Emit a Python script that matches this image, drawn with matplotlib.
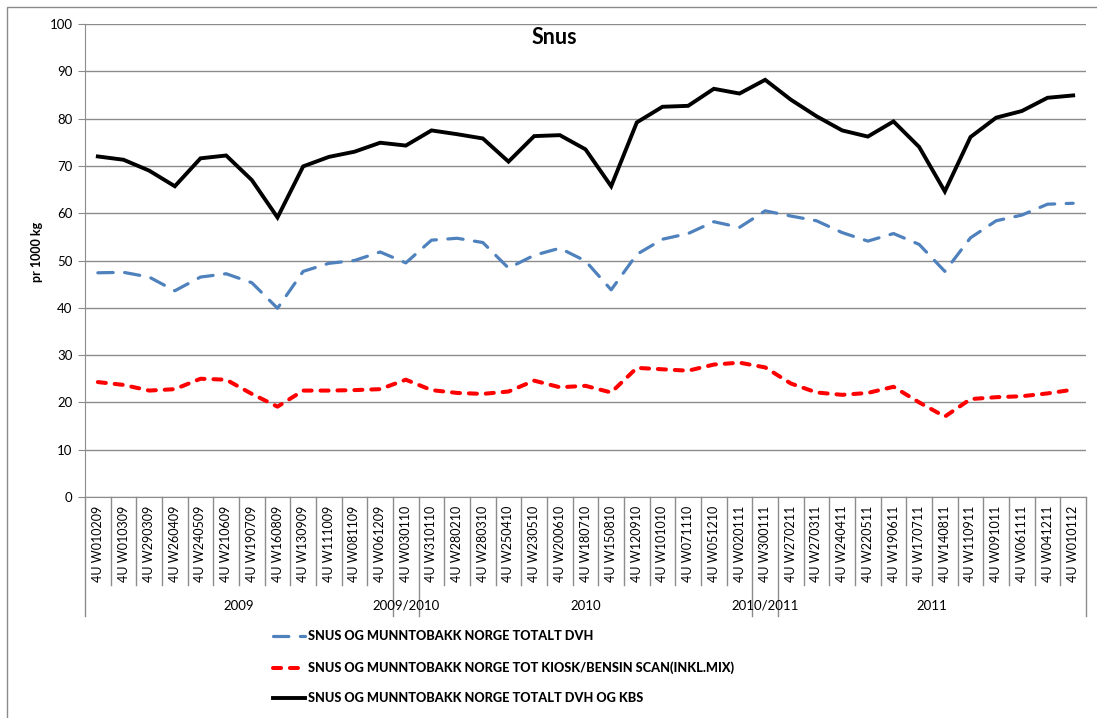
import matplotlib
matplotlib.use("Agg")
import matplotlib.pyplot as plt
from matplotlib.lines import Line2D
from matplotlib.patches import Rectangle
import numpy as np

categories = ["4U W010209", "4U W010309", "4U W290309", "4U W260409", "4U W240509",
              "4U W210609", "4U W190709", "4U W160809", "4U W130909", "4U W111009",
              "4U W081109", "4U W061209", "4U W030110", "4U W310110", "4U W280210",
              "4U W280310", "4U W250410", "4U W230510", "4U W200610", "4U W180710",
              "4U W150810", "4U W120910", "4U W101010", "4U W071110", "4U W051210",
              "4U W020111", "4U W300111", "4U W270211", "4U W270311", "4U W240411",
              "4U W220511", "4U W190611", "4U W170711", "4U W140811", "4U W110911",
              "4U W091011", "4U W061111", "4U W041211", "4U W010112"]

groups = ["2009", "2009/2010", "2010", "2010/2011", "2011"]
group_sizes = [12, 1, 13, 1, 12]

dvh = [47.4, 47.5, 46.5, 43.6, 46.5, 47.2, 45.3, 39.9, 47.7, 49.4,
       50.0, 51.8, 49.5, 54.3, 54.7, 53.8, 48.4, 51.1, 52.6, 49.9,
       43.8, 51.3, 54.5, 55.7, 58.2, 57.0, 60.5, 59.4, 58.4, 55.9,
       54.1, 55.7, 53.4, 47.7, 54.8, 58.4, 59.6, 61.9, 62.1]

kiosk = [24.3, 23.7, 22.5, 22.8, 25.0, 24.8, 21.8, 19.1, 22.5, 22.5,
         22.6, 22.8, 24.8, 22.6, 22.0, 21.8, 22.3, 24.6, 23.2, 23.5,
         22.1, 27.3, 27.0, 26.7, 28.0, 28.4, 27.4, 24.0, 22.1, 21.6,
         22.0, 23.3, 20.0, 17.0, 20.7, 21.1, 21.3, 21.9, 22.7]

total = [72.0, 71.3, 69.0, 65.7, 71.6, 72.2, 67.0, 59.1, 69.9, 71.9,
         73.0, 74.9, 74.3, 77.5, 76.7, 75.8, 70.9, 76.3, 76.5, 73.5,
         65.7, 79.2, 82.5, 82.7, 86.3, 85.3, 88.2, 84.0, 80.5, 77.5,
         76.2, 79.4, 74.0, 64.6, 76.1, 80.2, 81.6, 84.4, 84.9]

series_labels = ["SNUS OG MUNNTOBAKK NORGE TOTALT DVH",
                 "SNUS OG MUNNTOBAKK NORGE TOT KIOSK/BENSIN SCAN(INKL.MIX)",
                 "SNUS OG MUNNTOBAKK NORGE TOTALT DVH OG KBS"]

FONT = "Lato"
plt.rcParams["font.family"] = [FONT, "DejaVu Sans"]

W, H = 1097, 718
fig = plt.figure(figsize=(W / 100, H / 100), dpi=100)

def fx(px):
    return px / W

def fy(py):
    return 1 - py / H

# chart border (left/top visible)
fig.patches.append(Rectangle((fx(7), fy(760)), fx(1200) - fx(7), fy(7) - fy(760),
                             transform=fig.transFigure, fill=False,
                             edgecolor="#8a8a8a", lw=1.0, zorder=0))

ax_l, ax_r, ax_t, ax_b = 85, 1086, 24, 497
ax = fig.add_axes([fx(ax_l), fy(ax_b), fx(ax_r) - fx(ax_l), fy(ax_t) - fy(ax_b)])

blue_style = dict(color="#4F81BD", lw=2.3, dashes=(4.8, 3.6), dash_capstyle="round")
red_style = dict(color="#FF0000", lw=2.9, dashes=(2.0, 2.2), dash_capstyle="round")
black_style = dict(color="#000000", lw=2.8)

x = np.arange(len(categories))
ax.plot(x, dvh, zorder=3, **blue_style)
ax.plot(x, kiosk, zorder=3, **red_style)
ax.plot(x, total, zorder=4, solid_joinstyle="miter", **black_style)

ax.set_xlim(-0.5, len(categories) - 0.5)
ax.set_ylim(0, 100)
ax.set_yticks(np.arange(0, 101, 10))
ax.yaxis.grid(True, color="#8c8c8c", lw=1.0)
ax.set_axisbelow(True)
for s in ["top", "right"]:
    ax.spines[s].set_visible(False)
ax.spines["left"].set_color("#8c8c8c")
ax.spines["bottom"].set_color("#8c8c8c")
ax.tick_params(axis="y", length=5, color="#8c8c8c", labelsize=9.5, pad=4,
               labelcolor="#000000")
ax.set_xticks(x)
ax.set_xticklabels(categories, rotation=90, fontsize=9, va="top")
ax.tick_params(axis="x", length=0, pad=6)

# category separators and group separators below axis
trans = ax.get_xaxis_transform()
y_short = (ax_b - 585) / (ax_b - ax_t)
y_long = (ax_b - 616) / (ax_b - ax_t)
boundaries = np.arange(len(categories) + 1) - 0.5
group_edges = np.concatenate([[0], np.cumsum(group_sizes)]) - 0.5
for b in boundaries:
    yl = y_long if b in group_edges else y_short
    ax.add_line(Line2D([b, b], [0, yl], transform=trans, color="#8c8c8c", lw=1.0,
                       clip_on=False))
y_grp = (ax_b - 606) / (ax_b - ax_t)
for g, lo, hi in zip(groups, group_edges[:-1], group_edges[1:]):
    ax.text((lo + hi) / 2, y_grp, g, transform=trans, ha="center", va="center",
            fontsize=9.5)

# title and y label
fig.text(fx(554), fy(38), "Snus", ha="center", va="center", fontsize=15.5,
         fontweight="bold")
fig.text(fx(37), fy(252), "pr 1000 kg", ha="center", va="center", rotation=90,
         fontsize=9, fontweight="bold")

# legend
leg_y = [636, 668, 698]
for yy, lab, st in zip(leg_y, series_labels, [blue_style, red_style, black_style]):
    fig.add_artist(Line2D([fx(273), fx(305)], [fy(yy), fy(yy)], transform=fig.transFigure,
                          **st))
    fig.text(fx(308), fy(yy), lab, ha="left", va="center", fontsize=9.2,
             fontweight=900)

fig.savefig("out.png", dpi=100)
